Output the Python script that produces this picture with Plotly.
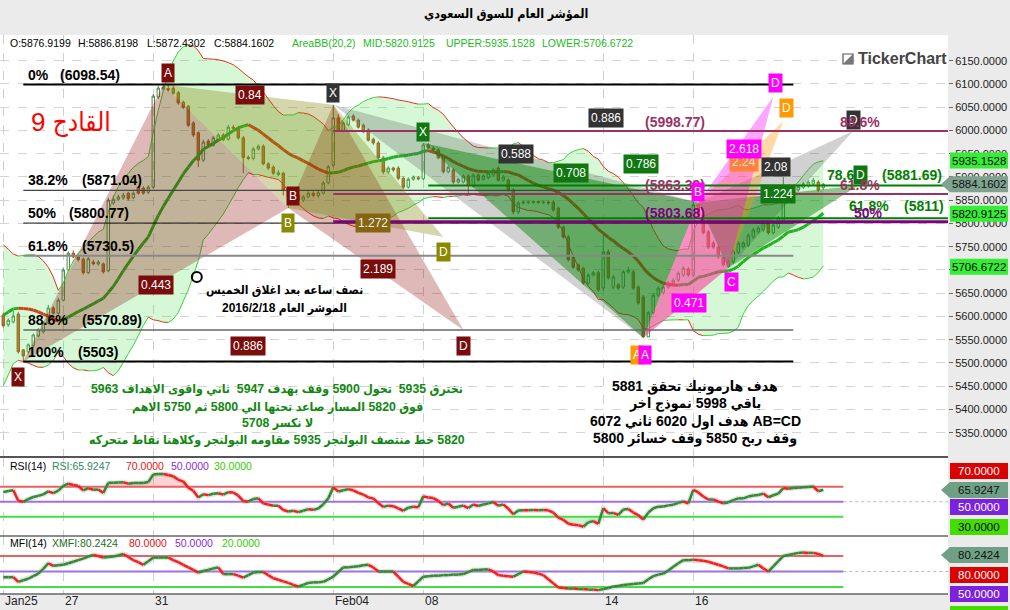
import numpy as np
import pandas as pd
import plotly.graph_objects as go
from plotly.subplots import make_subplots

# ----------------------------- DATA -----------------------------
opens = [5603, 5582, 5588, 5605, 5528, 5524, 5537, 5558, 5567, 5586,
         5618, 5607, 5635, 5700, 5736, 5728, 5723, 5694, 5717, 5713,
         5713, 5698, 5844, 5852, 5855, 5865, 5855, 5878, 5876, 5867,
         5878, 6072, 6089, 6090, 6091, 6081, 6061, 6052, 6016, 5995,
         5936, 5977, 5968, 5980, 5990, 5981, 6007, 6005, 5984, 5942,
         5940, 5960, 5966, 5928, 5921, 5905, 5908, 5872, 5858, 5862,
         5850, 5857, 5865, 5860, 5865, 5887, 5925, 6027, 6000, 6012,
         6031, 6022, 6011, 6001, 5981, 5973, 5941, 5911, 5919, 5919,
         5897, 5878, 5895, 5898, 5896, 5969, 5962, 5958, 5943, 5911,
         5915, 5889, 5889, 5902, 5880, 5904, 5895, 5898, 5904, 5919,
         5893, 5893, 5872, 5825, 5844, 5846, 5845, 5847, 5845, 5846,
         5846, 5833, 5792, 5771, 5728, 5711, 5704, 5672, 5689, 5694,
         5661, 5739, 5663, 5668, 5663, 5696, 5696, 5663, 5642, 5556,
         5608, 5646, 5651, 5663, 5672, 5678, 5689, 5702, 5689, 5840,
         5818, 5782, 5758, 5749, 5728, 5707, 5717, 5738, 5750, 5753,
         5771, 5782, 5786, 5801, 5780, 5792, 5807, 5872, 5869, 5872,
         5878, 5881, 5885, 5889, 5876.9199]
highs = [5608, 5596, 5612, 5610, 5530, 5542, 5563, 5575, 5590, 5625,
         5622, 5640, 5705, 5740, 5742, 5732, 5727, 5728, 5722, 5721,
         5716, 5855, 5860, 5862, 5866, 5868, 5869, 5881, 5880, 5882,
         6078, 6096, 6098.54, 6098, 6096, 6085, 6064, 6055, 6020, 5998,
         5980, 5981, 5988, 5994, 5994, 6012, 6012, 6010, 5988, 5946,
         5964, 5970, 5970, 5932, 5925, 5915, 5911, 5876, 5866, 5866,
         5861, 5869, 5869, 5870, 5891, 5926, 6055, 6035, 6020, 6033,
         6035, 6026, 6015, 6005, 5985, 5977, 5945, 5923, 5922, 5923,
         5901, 5899, 5903, 5902, 5973, 5973, 5966, 5962, 5947, 5925,
         5919, 5898, 5906, 5906, 5908, 5908, 5906, 5912, 5919, 5923,
         5904, 5897, 5876, 5848, 5849, 5849, 5850, 5850, 5849, 5849,
         5850, 5836, 5796, 5775, 5731, 5714, 5707, 5693, 5698, 5698,
         5775, 5744, 5689, 5672, 5700, 5706, 5700, 5667, 5646, 5612,
         5650, 5665, 5667, 5676, 5682, 5697, 5708, 5706, 5847, 5843,
         5822, 5786, 5762, 5753, 5732, 5722, 5744, 5762, 5762, 5779,
         5790, 5794, 5807, 5805, 5801, 5816, 5900, 5878, 5882, 5884,
         5889, 5893, 5898, 5893, 5886.8198]
lows = [5576, 5578, 5585, 5520, 5503, 5520, 5534, 5555, 5563, 5583,
        5604, 5603, 5632, 5697, 5725, 5718, 5690, 5691, 5710, 5709,
        5692, 5695, 5840, 5848, 5851, 5849, 5852, 5862, 5862, 5863,
        5874, 6068, 6086, 6084, 6077, 6055, 6046, 6007, 5986, 5921,
        5932, 5964, 5965, 5977, 5977, 5978, 6002, 5980, 5908, 5936,
        5936, 5957, 5925, 5915, 5904, 5902, 5860, 5833, 5845, 5845,
        5846, 5854, 5856, 5855, 5862, 5884, 5920, 5997, 5996, 6009,
        6019, 6004, 5994, 5976, 5969, 5937, 5906, 5907, 5911, 5893,
        5874, 5875, 5892, 5893, 5893, 5959, 5955, 5938, 5907, 5908,
        5885, 5886, 5886, 5861, 5877, 5890, 5892, 5895, 5901, 5890,
        5890, 5868, 5820, 5820, 5841, 5842, 5842, 5842, 5842, 5840,
        5825, 5788, 5767, 5718, 5702, 5696, 5668, 5668, 5686, 5653,
        5654, 5679, 5659, 5657, 5659, 5692, 5657, 5625, 5553.9, 5556,
        5604, 5642, 5647, 5659, 5668, 5674, 5685, 5685, 5685, 5815,
        5776, 5745, 5745, 5724, 5707, 5704, 5713, 5734, 5746, 5749,
        5767, 5778, 5782, 5776, 5776, 5788, 5803, 5864, 5865, 5868,
        5874, 5877, 5881, 5868, 5872.4302]
closes = [5580, 5592, 5601, 5524, 5515, 5539, 5560, 5571, 5586, 5618,
          5607, 5635, 5700, 5736, 5728, 5722, 5694, 5724, 5713, 5717,
          5696, 5850, 5852, 5857, 5861, 5853, 5865, 5865, 5865, 5878,
          6074, 6091, 6093, 6087, 6080, 6059, 6050, 6011, 5990, 5936,
          5975, 5968, 5984, 5990, 5980, 6007, 6005, 5984, 5942, 5940,
          5960, 5966, 5928, 5919, 5908, 5909, 5872, 5858, 5862, 5850,
          5857, 5865, 5860, 5866, 5887, 5922, 6027, 6001, 6016, 6029,
          6022, 6007, 5997, 5979, 5973, 5941, 5911, 5919, 5915, 5897,
          5878, 5895, 5900, 5896, 5969, 5962, 5958, 5941, 5911, 5921,
          5889, 5895, 5902, 5883, 5904, 5893, 5902, 5908, 5915, 5893,
          5900, 5872, 5825, 5844, 5846, 5845, 5847, 5845, 5846, 5844,
          5829, 5792, 5771, 5722, 5706, 5700, 5672, 5689, 5694, 5657,
          5739, 5683, 5685, 5661, 5696, 5700, 5661, 5629, 5556, 5608,
          5646, 5661, 5663, 5672, 5678, 5693, 5704, 5689, 5840, 5818,
          5780, 5749, 5749, 5728, 5711, 5719, 5740, 5758, 5758, 5775,
          5786, 5790, 5803, 5780, 5797, 5812, 5872, 5868, 5878, 5880,
          5885, 5889, 5893, 5872, 5884.1602]
# closes before the visible window (off-screen), estimated from the band position at the left edge
warmup_closes = [5450, 5465, 5495, 5525, 5560, 5605, 5650, 5685, 5705, 5720,
                 5735, 5640, 5625, 5610, 5600, 5595, 5600, 5605, 5597]
mfi_values = [39, 39, 39, 30, 33, 36, 41, 46, 55, 66,
              61, 62, 63, 66, 69, 72, 75, 79, 82, 80,
              77, 78, 79, 81, 84, 78, 72, 68, 63, 70,
              77, 77, 77, 77, 72, 68, 63, 58, 53, 48,
              51, 53, 56, 58, 45, 45, 45, 42, 38, 43,
              48, 49, 49, 43, 37, 34, 31, 28, 24, 21,
              24, 28, 29, 29, 30, 35, 40, 49, 58, 58,
              59, 60, 62, 63, 58, 50, 50, 50, 50, 40,
              30, 26, 22, 31, 40, 41, 42, 42, 43, 43,
              44, 44, 45, 49, 53, 53, 54, 54, 50, 43,
              42, 41, 40, 45, 50, 49, 48, 46, 43, 35,
              27, 19, 18, 17, 17, 16, 16, 15, 15, 14,
              16, 18, 21, 22, 24, 25, 26, 27, 28, 35,
              41, 44, 46, 52, 59, 66, 72, 72, 73, 72,
              71, 69, 66, 63, 60, 56, 56, 56, 57, 57,
              60, 63, 56, 50, 60, 70, 80, 82, 84, 86,
              87, 86, 86, 84, 80.2424]

tick_idx = [0, 12, 30, 66, 84, 120, 138]
tick_text = ["Jan25", "27", "31", "Feb04", "08", "14", "16"]

bb_last_mid, bb_last_upper, bb_last_lower = 5820.9125, 5935.1528, 5706.6722
rsi_last = 65.9247
mfi_last = 80.2424

# harmonic patterns (candle index, price)   X A B C D
maroon_idx = [4, 32, 57, 66, 92];      maroon_val = [5503, 6098.54, 5833, 6055, 5570.89]
gray_idx = [66, 128, 139, 145, 170];   gray_val = [6055, 5554, 5845, 5704, 5998.77]
green_idx = [84, 128, 139, 145, 171];  green_val = [5973, 5554, 5845, 5704, 5881.69]
#                                       A B C D
olive_idx = [32, 57, 66, 88];          olive_val = [6098.54, 5833, 6055, 5771]
magenta_idx = [128, 139, 145, 154];    magenta_val = [5554, 5845, 5704, 6073]
orange_idx = [128, 139, 145, 156];     orange_val = [5554, 5845, 5704, 6020]

fib_left_pct = ["0%", "38.2%", "50%", "61.8%", "88.6%", "100%"]
fib_left_val = [6098.54, 5871.04, 5800.77, 5730.5, 5570.89, 5503]
fib_left_text = ["(6098.54)", "(5871.04)", "(5800.77)", "(5730.5)", "(5570.89)", "(5503)"]
fib_left_span = [4, 158]
fib_right_pct = ["88.6%", "61.8%", "50%"]
fib_right_val = [5998.77, 5863.39, 5803.68]
fib_right_text = ["(5998.77)", "(5863.39)", "(5803.68)"]
fib_right_start = 66
fib_green_pct = ["78.6%", "61.8%"]
fib_green_val = [5881.69, 5811]
fib_green_text = ["(5881.69)", "(5811)"]
fib_green_start = 85
note_marker_idx = [38.7]
note_marker_val = [5685]

title_text = "المؤشر العام للسوق السعودي"
q9_text = "القادح 9"
note_lines = ["نصف ساعه بعد اغلاق الخميس", "الموشر العام 2016/2/18"]
green_lines = ["نخترق 5935  تحول 5900 وقف بهدف 5947  ثاني واقوى الاهداف 5963",
               "فوق 5820 المسار صاعد تحتها الي 5800 ثم 5750 الاهم",
               "لا نكسر 5708",
               "5820 خط منتصف البولنجر 5935 مقاومه البولنجر وكلاهنا نقاط متحركه"]
black_lines = ["هدف هارمونيك تحقق 5881",
               "باقي 5998 نموذج اخر",
               "AB=CD هدف اول 6020 ثاني 6072",
               "وقف ربح 5850 وقف خسائر 5800"]

# ----------------------------- INDICATORS -----------------------------
N = len(closes)
idx = list(range(N))
W0 = len(warmup_closes)
allc = pd.Series(warmup_closes + closes, dtype=float)
bb_mid = allc.rolling(20).mean().to_numpy()[W0:]
bb_sd = allc.rolling(20).std(ddof=0).to_numpy()[W0:]
bb_up = bb_mid + 2 * bb_sd
bb_lo = bb_mid - 2 * bb_sd

delta = np.diff(allc.to_numpy())
gain = np.where(delta > 0, delta, 0.0)
loss = np.where(delta < 0, -delta, 0.0)
n = 14
ag, al = gain[:n].mean(), loss[:n].mean()
rsi_full = [np.nan] * n + [100 - 100 / (1 + ag / al)]
for k in range(n, len(delta)):
    ag = (ag * (n - 1) + gain[k]) / n
    al = (al * (n - 1) + loss[k]) / n
    rsi_full.append(100 - 100 / (1 + ag / al))
rsi = np.array(rsi_full[W0:])

# ----------------------------- LAYOUT HELPERS -----------------------------
PLOT_W = 948.0
PLOT_TOP, PLOT_BOT = 35.0, 594.0
PLOT_H = PLOT_BOT - PLOT_TOP
def fx(px): return px / PLOT_W
def fy(py): return (PLOT_BOT - py) / PLOT_H
X0, X1 = -0.66, 188.94
MAIN_Y0, MAIN_Y1 = 5299.9, 6205.2
RSI_Y0, RSI_Y1 = 4.3, 108.3
MFI_Y0, MFI_Y1 = 6.5, 118.7
def main_py(v): return 35 + (MAIN_Y1 - v) / (MAIN_Y1 - MAIN_Y0) * (456 - 35)

FONT_LAT = "Liberation Sans, Arial, sans-serif"
FONT_AR = "Liberation Sans, DejaVu Sans Condensed, DejaVu Sans, sans-serif"
rtl = lambda s: "\u202b" + s + "\u202c"

def seg(xs, ys):
    ux, uy, dx, dy = [], [], [], []
    for k in range(len(xs) - 1):
        if ys[k + 1] >= ys[k]:
            ux += [xs[k], xs[k + 1], None]; uy += [ys[k], ys[k + 1], None]
        else:
            dx += [xs[k], xs[k + 1], None]; dy += [ys[k], ys[k + 1], None]
    return ux, uy, dx, dy

fig = make_subplots(rows=3, cols=1, shared_xaxes=True, vertical_spacing=0.0)
nohov = dict(hoverinfo="skip", showlegend=False)

# ---- main panel ----
fig.add_trace(go.Scatter(x=idx + idx[::-1], y=list(bb_up) + list(bb_lo[::-1]), fill="toself",
                         fillcolor="rgba(70,225,70,0.22)", line=dict(width=0), mode="lines", **nohov), row=1, col=1)
for ys, w, cu, cd in [(bb_up, 1, "#3ad13a", "#e8311c"), (bb_lo, 1, "#3ad13a", "#e8311c"),
                      (bb_mid, 3, "#22b022", "#c8441a")]:
    ux, uy, dx, dy = seg(idx, list(ys))
    fig.add_trace(go.Scatter(x=ux, y=uy, mode="lines", line=dict(color=cu, width=w), **nohov), row=1, col=1)
    fig.add_trace(go.Scatter(x=dx, y=dy, mode="lines", line=dict(color=cd, width=w), **nohov), row=1, col=1)

fig.add_trace(go.Candlestick(x=idx, open=opens, high=highs, low=lows, close=closes,
                             increasing=dict(line=dict(color="#4b8b4b", width=1), fillcolor="rgba(255,255,255,0)"),
                             decreasing=dict(line=dict(color="#a3501e", width=1), fillcolor="#d0682e"),
                             whiskerwidth=0, showlegend=False, hoverinfo="skip"), row=1, col=1)

def tri(xs, ys, color):
    return go.Scatter(x=list(xs) + [xs[0]], y=list(ys) + [ys[0]], fill="toself", fillcolor=color,
                      line=dict(width=0), mode="lines", **nohov)

def add_xabcd(ix, vv, color):
    fig.add_trace(tri(ix[0:3], vv[0:3], color), row=1, col=1)
    fig.add_trace(tri(ix[2:5], vv[2:5], color), row=1, col=1)

def add_abcd(ix, vv, color):
    fig.add_trace(tri(ix[0:3], vv[0:3], color), row=1, col=1)
    fig.add_trace(tri(ix[1:4], vv[1:4], color), row=1, col=1)

add_xabcd(maroon_idx, maroon_val, "rgba(139,0,0,0.28)")
add_abcd(olive_idx, olive_val, "rgba(128,128,0,0.32)")
add_xabcd(gray_idx, gray_val, "rgba(90,90,90,0.28)")
add_xabcd(green_idx, green_val, "rgba(0,128,0,0.45)")
add_abcd(orange_idx, orange_val, "rgba(255,150,0,0.35)")
add_abcd(magenta_idx, magenta_val, "rgba(255,0,255,0.35)")

left_colors = ["#000000", "#444444", "#111111", "#888888", "#666666", "#000000"]
left_widths = [2, 1.2, 1, 2, 1.5, 2]
for v, c, w in zip(fib_left_val, left_colors, left_widths):
    fig.add_trace(go.Scatter(x=fib_left_span, y=[v, v], mode="lines", line=dict(color=c, width=w), **nohov), row=1, col=1)
for v, c, w in zip(fib_right_val, ["#993366", "#993366", "#800080"], [2, 2, 3]):
    fig.add_trace(go.Scatter(x=[fib_right_start, X1], y=[v, v], mode="lines", line=dict(color=c, width=w), **nohov), row=1, col=1)
for v in fib_green_val:
    fig.add_trace(go.Scatter(x=[fib_green_start, X1], y=[v, v], mode="lines", line=dict(color="#008000", width=2), **nohov), row=1, col=1)

fig.add_trace(go.Scatter(x=note_marker_idx, y=note_marker_val, mode="markers",
                         marker=dict(symbol="circle-open", size=10, color="black", line=dict(width=2)), **nohov), row=1, col=1)

# ---- RSI panel ----
LV_END = 168
fig.add_trace(go.Scatter(x=idx, y=[70] * N, mode="lines", line=dict(width=0), **nohov), row=2, col=1)
fig.add_trace(go.Scatter(x=idx, y=np.maximum(rsi, 70), mode="lines", line=dict(width=0), fill="tonexty",
                         fillcolor="rgba(255,80,80,0.25)", **nohov), row=2, col=1)
fig.add_trace(go.Scatter(x=idx, y=[30] * N, mode="lines", line=dict(width=0), **nohov), row=2, col=1)
fig.add_trace(go.Scatter(x=idx, y=np.minimum(rsi, 30), mode="lines", line=dict(width=0), fill="tonexty",
                         fillcolor="rgba(60,200,60,0.25)", **nohov), row=2, col=1)
for lv, c in [(70, "#e86060"), (50, "#a070e0"), (30, "#44dd44")]:
    fig.add_trace(go.Scatter(x=[X0, LV_END], y=[lv, lv], mode="lines", line=dict(color=c, width=2), **nohov), row=2, col=1)
fig.add_trace(go.Scatter(x=[LV_END, X1], y=[50, 50], mode="lines", line=dict(color="#bbbbbb", width=1, dash="dot"), **nohov), row=2, col=1)
fig.add_trace(go.Scatter(x=idx, y=rsi, mode="lines", line=dict(color="rgba(170,170,170,0.35)", width=5), **nohov), row=2, col=1)
ux, uy, dx, dy = seg(idx, list(rsi))
fig.add_trace(go.Scatter(x=ux, y=uy, mode="lines", line=dict(color="#2e8b2e", width=2.5), **nohov), row=2, col=1)
fig.add_trace(go.Scatter(x=dx, y=dy, mode="lines", line=dict(color="#ff1a1a", width=2.5), **nohov), row=2, col=1)

# ---- MFI panel ----
for lv, c in [(80, "#e86060"), (50, "#a070e0"), (20, "#44dd44")]:
    fig.add_trace(go.Scatter(x=[X0, LV_END], y=[lv, lv], mode="lines", line=dict(color=c, width=2), **nohov), row=3, col=1)
fig.add_trace(go.Scatter(x=[LV_END, X1], y=[50, 50], mode="lines", line=dict(color="#bbbbbb", width=1, dash="dot"), **nohov), row=3, col=1)
fig.add_trace(go.Scatter(x=idx, y=mfi_values, mode="lines", line=dict(color="rgba(170,170,170,0.35)", width=5), **nohov), row=3, col=1)
ux, uy, dx, dy = seg(idx, mfi_values)
fig.add_trace(go.Scatter(x=ux, y=uy, mode="lines", line=dict(color="#2e8b2e", width=2.5), **nohov), row=3, col=1)
fig.add_trace(go.Scatter(x=dx, y=dy, mode="lines", line=dict(color="#ff1a1a", width=2.5), **nohov), row=3, col=1)

# ----------------------------- ANNOTATIONS -----------------------------
annotations = []
shapes = []
def ann(**kw):
    d = dict(showarrow=False)
    d.update(kw)
    annotations.append(d)

def ptext(px, py, text, size=11, color="black", family=FONT_LAT, xanchor="left", bold=False):
    t = "<b>" + text + "</b>" if bold else text
    ann(x=fx(px), y=fy(py), xref="paper", yref="paper", text=t, xanchor=xanchor, yanchor="middle",
        font=dict(family=family, size=size, color=color))

ptext(506, 15, rtl(title_text), size=12.5, family=FONT_AR, xanchor="center", bold=True)

GREEN_TXT = "#22bb22"
info = [("O:%.4f" % opens[-1], 8, "black"), ("H:%.4f" % highs[-1], 76, "black"),
        ("L:%.4f" % lows[-1], 145, "black"), ("C:%.4f" % closes[-1], 212, "black"),
        ("AreaBB(20,2)", 290, GREEN_TXT), ("MID:%.4f" % bb_last_mid, 361, GREEN_TXT),
        ("UPPER:%.4f" % bb_last_upper, 444, GREEN_TXT), ("LOWER:%.4f" % bb_last_lower, 540, GREEN_TXT)]
for t, px, c in info:
    ptext(px, 43, t, size=10.5, color=c)

RED, PURP, GRN = "#ee1111", "#8a2be2", "#33cc00"
for t, px, c in [("RSI(14)", 8, "black"), ("RSI:%.4f" % rsi_last, 50, "#2e8b57"), ("70.0000", 124, RED),
                 ("50.0000", 169, PURP), ("30.0000", 212, GRN)]:
    ptext(px, 466, t, size=10.5, color=c)
for t, px, c in [("MFI(14)", 8, "black"), ("XMFI:%.4f" % mfi_last, 50, "#1e6e1e"), ("80.0000", 127, RED),
                 ("50.0000", 173, PURP), ("20.0000", 220, GRN)]:
    ptext(px, 543, t, size=10.5, color=c)

# x tick labels
for t, i in zip(tick_text, tick_idx):
    ann(x=i, y=fy(601), xref="x3", yref="paper", text=t, xanchor="left", yanchor="middle", xshift=0,
        font=dict(family=FONT_LAT, size=12, color="#222"))

# left fib labels
left_val_px = [58, 80, 67, 80, 80, 76]
for p, v, t, vx in zip(fib_left_pct, fib_left_val, fib_left_text, left_val_px):
    ann(x=fx(26), y=v, xref="paper", yref="y", text="<b>%s</b>" % p, xanchor="left", yanchor="middle", yshift=10,
        font=dict(family=FONT_LAT, size=14, color="black"))
    ann(x=fx(vx), y=v, xref="paper", yref="y", text="<b>%s</b>" % t, xanchor="left", yanchor="middle", yshift=10,
        font=dict(family=FONT_LAT, size=14, color="black"))
# right fib labels
for p, v, t, c, ppx in zip(fib_right_pct, fib_right_val, fib_right_text, ["#993366", "#993366", "#800080"], [838, 838, 852]):
    ann(x=fx(643), y=v, xref="paper", yref="y", text="<b>%s</b>" % t, xanchor="left", yanchor="middle", yshift=9,
        font=dict(family=FONT_LAT, size=14, color=c))
for p, v, t, ppx, vpx, ys in zip(fib_green_pct, fib_green_val, fib_green_text, [825, 847], [880, 902], [10, 12]):
    ann(x=fx(ppx), y=v, xref="paper", yref="y", text="<b>%s</b>" % p, xanchor="left", yanchor="middle", yshift=ys,
        font=dict(family=FONT_LAT, size=14, color="#008000"))
    ann(x=fx(vpx), y=v, xref="paper", yref="y", text="<b>%s</b>" % t, xanchor="left", yanchor="middle", yshift=ys,
        font=dict(family=FONT_LAT, size=14, color="#008000"))

# harmonic labels
def box(x, y, text, bg, fc="white", xs=0, ys=0, size=12):
    ann(x=x, y=y, xref="x", yref="y", text=text, bgcolor=bg, xshift=xs, yshift=ys, borderpad=2,
        font=dict(family=FONT_LAT, size=size, color=fc), xanchor="center", yanchor="middle")

def mid(ix, vv, a, b):
    return (ix[a] + ix[b]) / 2.0, (vv[a] + vv[b]) / 2.0

MAR, OLV, GRY, GRN2, MAG, ORG = "#7a0c0c", "#8a8a00", "#333333", "#117711", "#ff00ff", "#ff9900"
# maroon
box(maroon_idx[0], maroon_val[0], "X", MAR, xs=-5, ys=-15)
box(maroon_idx[1], maroon_val[1], "A", MAR, xs=5, ys=12)
box(maroon_idx[2], maroon_val[2], "B", MAR, xs=5, ys=12)
box(maroon_idx[4], maroon_val[4], "D", MAR, ys=-16)
for (a, b), t, xs in [((0, 2), "0.443", 0), ((1, 3), "0.84", 2), ((2, 4), "2.189", 2), ((0, 4), "0.886", 5)]:
    mx, my = mid(maroon_idx, maroon_val, a, b); box(mx, my, t, MAR, xs=xs)
# olive (ABCD)
box(olive_idx[1], olive_val[1], "B", OLV, ys=-15)
box(olive_idx[3], olive_val[3], "D", OLV, ys=-15)
mx, my = mid(olive_idx, olive_val, 1, 3); box(mx, my, "1.272", "#85650f", fc="#eeeeee", xs=7)
# gray
box(gray_idx[0], gray_val[0], "X", GRY, ys=12)
for (a, b), t, xs in [((0, 2), "0.588", 0), ((0, 4), "0.886", 13), ((2, 4), "2.08", 0)]:
    mx, my = mid(gray_idx, gray_val, a, b); box(mx, my, t, GRY, xs=xs)
# green
box(green_idx[0], green_val[0], "X", GRN2, ys=11)
for (a, b), t, xs in [((0, 2), "0.708", 10), ((0, 4), "0.786", 0), ((2, 4), "1.224", 0)]:
    mx, my = mid(green_idx, green_val, a, b); box(mx, my, t, GRN2, xs=xs)
# orange
box(orange_idx[0], orange_val[0], "A", ORG, xs=-6, ys=-17)
box(orange_idx[3], orange_val[3], "D", ORG, xs=3, ys=13)
mx, my = mid(orange_idx, orange_val, 1, 3); box(mx, my, "2.24", "#ff8040", fc="#ffe0c0", xs=3)
# magenta
box(magenta_idx[0], magenta_val[0], "A", MAG, xs=2, ys=-17)
box(magenta_idx[1], magenta_val[1], "B", MAG, ys=11)
box(magenta_idx[2], magenta_val[2], "C", MAG, xs=3, ys=-14)
box(magenta_idx[3], magenta_val[3], "D", MAG, xs=2, ys=13)
mx, my = mid(magenta_idx, magenta_val, 0, 2); box(mx, my, "0.471", MAG, xs=3)
mx, my = mid(magenta_idx, magenta_val, 1, 3); box(mx, my, "2.618", MAG, xs=8)
# gray / green D on top
box(gray_idx[4], gray_val[4], "D", GRY, ys=11)
box(green_idx[4], green_val[4], "D", GRN2, xs=2, ys=10)

# right fib pct labels drawn over D labels
for p, v, c, ppx in zip(fib_right_pct, fib_right_val, ["#993366", "#993366", "#800080"], [838, 838, 852]):
    ann(x=fx(ppx), y=v, xref="paper", yref="y", text="<b>%s</b>" % p, xanchor="left", yanchor="middle", yshift=9,
        font=dict(family=FONT_LAT, size=14, color=c))

# Arabic texts
ptext(71, 122, rtl(q9_text), size=26, color="#ff0000", family=FONT_AR, xanchor="center")
for t, py in zip(note_lines, [290, 308]):
    ptext(284, py, rtl(t), size=12, family=FONT_AR, xanchor="center", bold=True)
for t, py in zip(green_lines, [389, 406.5, 423, 440]):
    ptext(277, py, rtl(t), size=12.3, color="#118811", family=FONT_AR, xanchor="center", bold=True)
for t, py in zip(black_lines, [386.5, 403.5, 421, 438.5]):
    ptext(695, py, rtl(t), size=14, color="black", family=FONT_AR, xanchor="center", bold=True)

# TickerChart logo
ptext(856, 59, "TickerChart", size=16, color="#444444", bold=True)
shapes.append(dict(type="rect", xref="paper", yref="paper", x0=fx(843), x1=fx(853), y0=fy(64), y1=fy(54),
                   line=dict(color="#555", width=1.2)))
shapes.append(dict(type="path", xref="paper", yref="paper",
                   path="M %f,%f L %f,%f L %f,%f Z" % (fx(843), fy(64), fx(853), fy(64), fx(853), fy(54)),
                   fillcolor="#777", line=dict(width=0)))

# right value tags
def tag(py, text, bg, fc="black", arrow=False):
    if arrow:
        shapes.append(dict(type="path", xref="paper", yref="paper",
                           path="M %f,%f L %f,%f L %f,%f L %f,%f L %f,%f Z" % (
                               fx(941), fy(py), fx(950), fy(py - 8), fx(1008), fy(py - 8),
                               fx(1008), fy(py + 8), fx(950), fy(py + 8)),
                           fillcolor=bg, line=dict(width=0)))
    else:
        shapes.append(dict(type="rect", xref="paper", yref="paper", x0=fx(950), x1=fx(1008),
                           y0=fy(py + 8), y1=fy(py - 8), fillcolor=bg, line=dict(width=0)))
    ann(x=fx(979), y=fy(py), xref="paper", yref="paper", text=text, xanchor="center", yanchor="middle",
        font=dict(family=FONT_LAT, size=11.5, color=fc))

tag(main_py(bb_last_upper), "%.4f" % bb_last_upper, "#33ee33")
tag(main_py(closes[-1]), "%.4f" % closes[-1], "#7fa38e", fc="#111", arrow=True)
tag(main_py(bb_last_mid), "%.4f" % bb_last_mid, "#33ee33")
tag(main_py(bb_last_lower), "%.4f" % bb_last_lower, "#33ee33")
tag(471, "70.0000", "#dd0000", fc="white")
tag(490, "%.4f" % rsi_last, "#6f9f84", fc="#111", arrow=True)
tag(507, "50.0000", "#7a22dd", fc="white")
tag(527, "30.0000", "#44dd00")
tag(555, "%.4f" % mfi_last, "#6f9f84", fc="#111", arrow=True)
tag(575, "80.0000", "#dd0000", fc="white")
tag(594, "50.0000", "#7a22dd", fc="white")
tag(614, "20.0000", "#44dd00")

# panel separators
for py, w, c in [(457, 2, "#555555"), (536, 1.5, "#666666"), (594, 1.5, "#666666")]:
    shapes.append(dict(type="line", xref="paper", yref="paper", x0=0, x1=1, y0=fy(py), y1=fy(py),
                       line=dict(color=c, width=w)))

fig.update_layout(width=1010, height=610, margin=dict(l=0, r=62, t=35, b=16),
                  paper_bgcolor="#ebebeb", plot_bgcolor="white", showlegend=False,
                  annotations=annotations, shapes=shapes)
xcommon = dict(range=[X0, X1], tickvals=tick_idx, showticklabels=False, showgrid=True,
               gridcolor="#cfcfcf", griddash="dash", zeroline=False, ticks="", rangeslider=dict(visible=False))
fig.update_layout(xaxis=xcommon, xaxis2=xcommon, xaxis3=xcommon)
fig.update_layout(
    yaxis=dict(domain=[fy(456), 1], range=[MAIN_Y0, MAIN_Y1], side="right",
               tickvals=list(range(5350, 6151, 50)), tickformat=".4f", ticks="outside", ticklen=4,
               tickcolor="#666", tickfont=dict(family=FONT_LAT, size=11, color="#222"),
               showgrid=True, gridcolor="#d4d4d4", griddash="dash", zeroline=False),
    yaxis2=dict(domain=[fy(536), fy(458)], range=[RSI_Y0, RSI_Y1], showticklabels=False, showgrid=False,
                zeroline=False),
    yaxis3=dict(domain=[0, fy(536)], range=[MFI_Y0, MFI_Y1], showticklabels=False, showgrid=False,
                zeroline=False),
)
fig.write_html("out.html", config={"displayModeBar": False},
               post_script="document.body.style.margin='0px';document.body.style.overflow='hidden';")
